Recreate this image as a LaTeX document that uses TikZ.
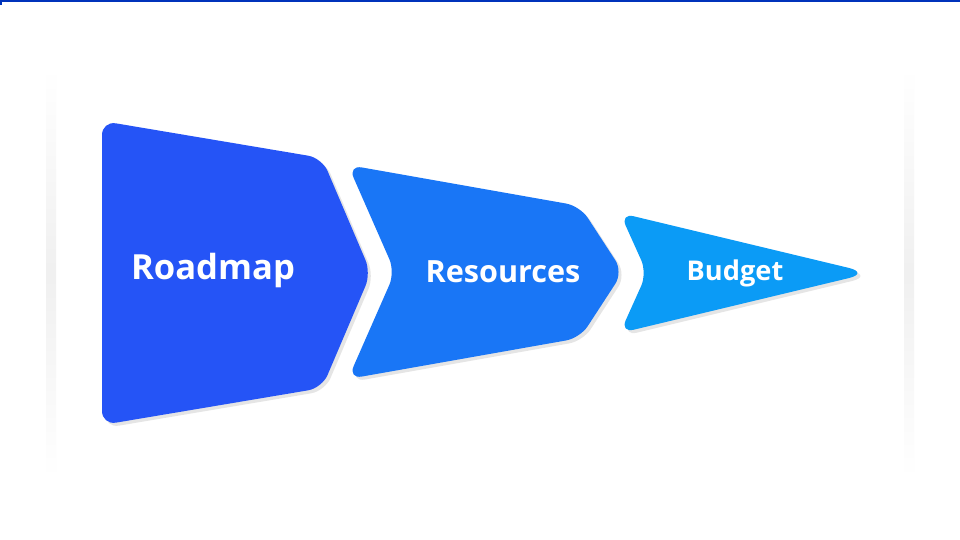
\documentclass[tikz,border=0pt]{standalone}
\usepackage{fontspec}
\setmainfont{Open Sans}
\usepackage{xcolor}
\usetikzlibrary{shadows}

\definecolor{roadmapblue}{RGB}{37,84,246}
\definecolor{resourceblue}{RGB}{25,118,246}
\definecolor{budgetblue}{RGB}{11,155,246}
\definecolor{edgeblue}{RGB}{0,51,187}

\begin{document}
\begin{tikzpicture}[x=0.5pt,y=-0.5pt]
  \tikzset{
    stage/.style={rounded corners=7, drop shadow={opacity=0.2, shadow xshift=1.5pt, shadow yshift=-1.5pt}},
    stagetext/.style={text=white, font=\bfseries},
    cardside/.style={top color=white, bottom color=white, middle color=black!6}
  }

  % Page
  \fill[white] (0,0) rectangle (960,540);
  \useasboundingbox (0,0) rectangle (960,540);
  \draw[edgeblue, line width=1pt] (1,5) -- (1,1) -- (960,1);

  % Card sides
  \shade[cardside] (46,68) rectangle (56,478);
  \shade[cardside] (904,68) rectangle (914,478);

  % Roadmap
  \fill[stage, fill=roadmapblue] (102,121) -- (322,158) -- (371,273) -- (322,388) -- (102,425) -- cycle;
  \node[stagetext, font=\bfseries\fontsize{17.3}{20}\selectfont] (roadmap) at (213,271) {Roadmap};

  % Resources
  \fill[stage, fill=resourceblue] (348,165) -- (580,206) -- (623,272) -- (580,338) -- (348,379) -- (395,272) -- cycle;
  \node[stagetext, font=\bfseries\fontsize{15.3}{18}\selectfont] (resources) at (503,272) {Resources};

  % Budget
  \fill[stage, fill=budgetblue] (620,213) [rounded corners=11] -- (870,273) [rounded corners=7] -- (620,333) -- (647,273) -- cycle;
  \node[stagetext, font=\bfseries\fontsize{13.6}{16}\selectfont] (budget) at (735,273) {Budget};

\end{tikzpicture}
\end{document}
